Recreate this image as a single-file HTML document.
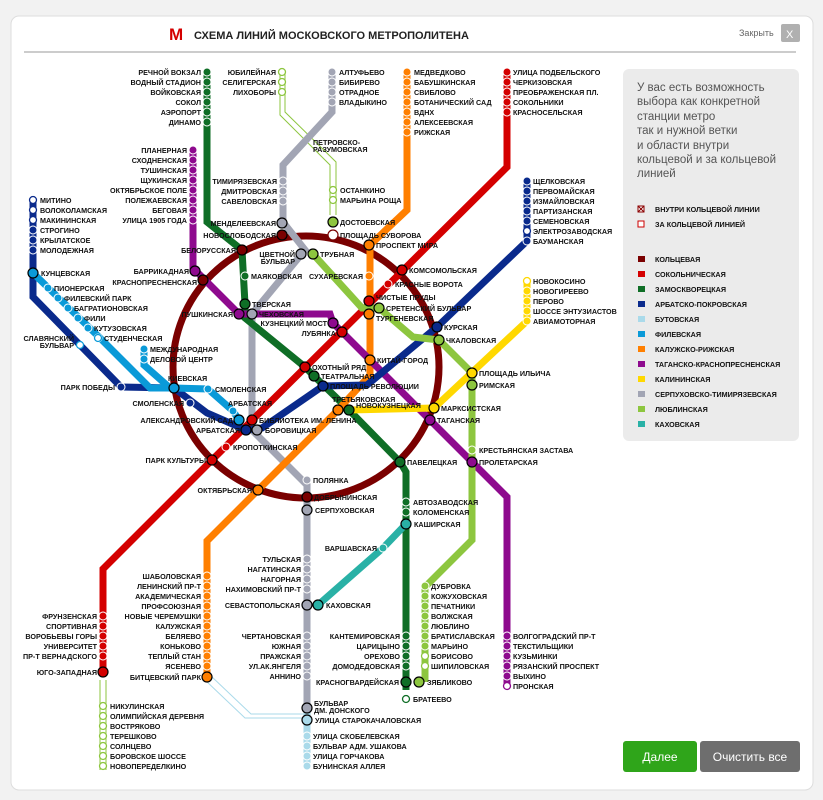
<!DOCTYPE html>
<html><head><meta charset="utf-8"><style>
html,body{margin:0;padding:0;background:#f2f2f2;width:823px;height:800px;overflow:hidden}
svg{display:block}
text{font-family:"Liberation Sans",sans-serif}
.l{font-size:7.2px;font-weight:bold;fill:#111}
.e{text-anchor:end}
</style></head><body>
<svg width="823" height="800" viewBox="0 0 823 800" xmlns="http://www.w3.org/2000/svg">
<rect x="11" y="16" width="802" height="774" rx="8" fill="#fff" stroke="#ddd"/>
<line x1="24" y1="52" x2="796" y2="52" stroke="#bbb" stroke-width="1.5"/>
<text x="169" y="40" font-size="17" font-weight="bold" fill="#d40000" font-family="Liberation Serif">М</text>
<text x="194" y="39" font-size="11" font-weight="bold" fill="#222">СХЕМА ЛИНИЙ МОСКОВСКОГО МЕТРОПОЛИТЕНА</text>
<text x="739" y="36" font-size="9" fill="#666">Закрыть</text>
<rect x="781" y="24" width="19" height="18" rx="2" fill="#b0b0b0"/>
<text x="786" y="38" font-size="11" fill="#fff">X</text>

<rect x="623" y="69" width="176" height="372" rx="6" fill="#ebebeb"/>
<g font-size="11.5" fill="#555">
<text x="637" y="91">У вас есть возможность</text>
<text x="637" y="105">выбора как конкретной</text>
<text x="637" y="120">станции метро</text>
<text x="637" y="134">так и нужной ветки</text>
<text x="637" y="149">и области внутри</text>
<text x="637" y="163">кольцевой и за кольцевой</text>
<text x="637" y="177">линией</text>
</g>
<rect x="638" y="206" width="6" height="6" fill="#fff" stroke="#8b0000"/><line x1="638" y1="206" x2="644" y2="212" stroke="#8b0000"/><line x1="644" y1="206" x2="638" y2="212" stroke="#8b0000"/>
<text x="655" y="212" class="l">ВНУТРИ КОЛЬЦЕВОЙ ЛИНИИ</text>
<rect x="638" y="221" width="6" height="6" fill="#fff" stroke="#c00"/>
<text x="655" y="227" class="l">ЗА КОЛЬЦЕВОЙ ЛИНИЕЙ</text>
<g>
<rect x="638" y="256" width="7" height="6" fill="#7a0000"/><text x="655" y="262" class="l">КОЛЬЦЕВАЯ</text>
<rect x="638" y="271" width="7" height="6" fill="#d40000"/><text x="655" y="277" class="l">СОКОЛЬНИЧЕСКАЯ</text>
<rect x="638" y="286" width="7" height="6" fill="#0f6e26"/><text x="655" y="292" class="l">ЗАМОСКВОРЕЦКАЯ</text>
<rect x="638" y="301" width="7" height="6" fill="#0a2a8c"/><text x="655" y="307" class="l">АРБАТСКО-ПОКРОВСКАЯ</text>
<rect x="638" y="316" width="7" height="6" fill="#aadaea"/><text x="655" y="322" class="l">БУТОВСКАЯ</text>
<rect x="638" y="331" width="7" height="6" fill="#0a9ad8"/><text x="655" y="337" class="l">ФИЛЕВСКАЯ</text>
<rect x="638" y="346" width="7" height="6" fill="#ff7f00"/><text x="655" y="352" class="l">КАЛУЖСКО-РИЖСКАЯ</text>
<rect x="638" y="361" width="7" height="6" fill="#8e0a8e"/><text x="655" y="367" class="l">ТАГАНСКО-КРАСНОПРЕСНЕНСКАЯ</text>
<rect x="638" y="376" width="7" height="6" fill="#ffd800"/><text x="655" y="382" class="l">КАЛИНИНСКАЯ</text>
<rect x="638" y="391" width="7" height="6" fill="#a2a5b4"/><text x="655" y="397" class="l">СЕРПУХОВСКО-ТИМИРЯЗЕВСКАЯ</text>
<rect x="638" y="406" width="7" height="6" fill="#8dc63f"/><text x="655" y="412" class="l">ЛЮБЛИНСКАЯ</text>
<rect x="638" y="421" width="7" height="6" fill="#29b1a6"/><text x="655" y="427" class="l">КАХОВСКАЯ</text>
</g>
<rect x="623" y="741" width="74" height="31" rx="3" fill="#2fa51a"/>
<text x="660" y="761" font-size="12" fill="#fff" text-anchor="middle">Далее</text>
<rect x="700" y="741" width="100" height="31" rx="3" fill="#6e6e6e"/>
<text x="750" y="761" font-size="12" fill="#fff" text-anchor="middle">Очистить все</text>

<g fill="none" stroke-width="7" stroke-linejoin="miter">
<ellipse cx="306" cy="367" rx="133" ry="131" stroke="#7a0000"/>
<polyline stroke="#aadaea" points="307,700 307,768"/>
<polyline stroke="#aadaea" stroke-width="1" points="205,680 245,718 307,718"/>
<polyline stroke="#aadaea" stroke-width="1" points="211,676 251,714 307,714"/>
<polyline stroke="#8dc63f" stroke-width="1" points="280,72 280,115 330,165 330,215"/>
<polyline stroke="#8dc63f" stroke-width="1" points="285,72 285,112 336,162 336,215"/>
<polyline stroke="#8dc63f" stroke-width="1" points="100,680 100,770"/><polyline stroke="#8dc63f" stroke-width="1" points="106,680 106,770"/>
<polyline stroke="#a2a5b4" points="332,72 332,112 283,165 283,222 305,250 252,314 252,430 307,485 307,705"/>
<polyline stroke="#0f6e26" points="207,72 207,222 242,250 245,304 245,318 305,367 314,376 349,410 400,462 406,472 406,690"/>
<polyline stroke="#d40000" points="507,72 507,167 212,460 103,569 103,672"/>
<polyline stroke="#ff7f00" points="407,72 407,210 370,245 370,375 338,410 258,490 207,541 207,677"/>
<polyline stroke="#8e0a8e" points="193,148 193,268 239,314 330,314 333,323 370,360 430,420 472,462 507,497 507,686"/>
<polyline stroke="#0a2a8c" points="33,200 33,297 121,387 174,388 207,413 246,430 262,428 323,386 367,385 437,327 527,241 527,181"/>
<polyline stroke="#0a9ad8" points="33,273 100,338 150,388 174,388 208,389 233,411 239,420"/>
<polyline stroke="#0a9ad8" points="144,349 144,365 170,388"/>
<polyline stroke="#ffd800" points="527,281 527,321 434,408 349,410"/>
<polyline stroke="#8dc63f" points="313,254 362,308 379,308 413,337 439,340 472,373 472,540 425,587 425,682"/>
<polyline stroke="#29b1a6" points="406,524 383,548 318,605"/>
</g>

<g stroke="#fff" stroke-width="1">
<g fill="#0f6e26"><circle cx="207" cy="72" r="4"/><circle cx="207" cy="82" r="4"/><circle cx="207" cy="92" r="4"/><circle cx="207" cy="102" r="4"/><circle cx="207" cy="112" r="4"/><circle cx="207" cy="122" r="4"/>
<circle cx="406" cy="502" r="4"/><circle cx="406" cy="512" r="4"/><circle cx="406" cy="636" r="4"/><circle cx="406" cy="646" r="4"/><circle cx="406" cy="656" r="4"/><circle cx="406" cy="666" r="4"/><circle cx="245" cy="276" r="4"/></g>
<g fill="#8e0a8e"><circle cx="193" cy="150" r="4"/><circle cx="193" cy="160" r="4"/><circle cx="193" cy="170" r="4"/><circle cx="193" cy="180" r="4"/><circle cx="193" cy="190" r="4"/><circle cx="193" cy="200" r="4"/><circle cx="193" cy="210" r="4"/><circle cx="193" cy="220" r="4"/>
<circle cx="507" cy="636" r="4"/><circle cx="507" cy="646" r="4"/><circle cx="507" cy="656" r="4"/><circle cx="507" cy="666" r="4"/><circle cx="507" cy="676" r="4"/></g>
<g fill="#a2a5b4"><circle cx="332" cy="72" r="4"/><circle cx="332" cy="82" r="4"/><circle cx="332" cy="92" r="4"/><circle cx="332" cy="102" r="4"/><circle cx="283" cy="181" r="4"/><circle cx="283" cy="191" r="4"/><circle cx="283" cy="201" r="4"/><circle cx="307" cy="480" r="4"/>
<circle cx="307" cy="559" r="4"/><circle cx="307" cy="569" r="4"/><circle cx="307" cy="579" r="4"/><circle cx="307" cy="589" r="4"/><circle cx="307" cy="636" r="4"/><circle cx="307" cy="646" r="4"/><circle cx="307" cy="656" r="4"/><circle cx="307" cy="666" r="4"/><circle cx="307" cy="676" r="4"/></g>
<g fill="#ff7f00"><circle cx="407" cy="72" r="4"/><circle cx="407" cy="82" r="4"/><circle cx="407" cy="92" r="4"/><circle cx="407" cy="102" r="4"/><circle cx="407" cy="112" r="4"/><circle cx="407" cy="122" r="4"/><circle cx="407" cy="132" r="4"/><circle cx="369" cy="276" r="4"/>
<circle cx="207" cy="576" r="4"/><circle cx="207" cy="586" r="4"/><circle cx="207" cy="596" r="4"/><circle cx="207" cy="606" r="4"/><circle cx="207" cy="616" r="4"/><circle cx="207" cy="626" r="4"/><circle cx="207" cy="636" r="4"/><circle cx="207" cy="646" r="4"/><circle cx="207" cy="656" r="4"/><circle cx="207" cy="666" r="4"/></g>
<g fill="#d40000"><circle cx="507" cy="72" r="4"/><circle cx="507" cy="82" r="4"/><circle cx="507" cy="92" r="4"/><circle cx="507" cy="102" r="4"/><circle cx="507" cy="112" r="4"/><circle cx="388" cy="284" r="4"/><circle cx="226" cy="447" r="4"/>
<circle cx="103" cy="616" r="4"/><circle cx="103" cy="626" r="4"/><circle cx="103" cy="636" r="4"/><circle cx="103" cy="646" r="4"/><circle cx="103" cy="656" r="4"/></g>
<g fill="#0a2a8c"><circle cx="527" cy="181" r="4"/><circle cx="527" cy="191" r="4"/><circle cx="527" cy="201" r="4"/><circle cx="527" cy="211" r="4"/><circle cx="527" cy="221" r="4"/><circle cx="527" cy="241" r="4"/><circle cx="33" cy="230" r="4"/><circle cx="33" cy="240" r="4"/><circle cx="33" cy="250" r="4"/><circle cx="121" cy="387" r="4"/><circle cx="190" cy="403" r="4"/></g>
<g fill="#ffd800"><circle cx="527" cy="291" r="4"/><circle cx="527" cy="301" r="4"/><circle cx="527" cy="311" r="4"/><circle cx="527" cy="321" r="4"/></g>
<g fill="#0a9ad8"><circle cx="48" cy="288" r="4"/><circle cx="58" cy="298" r="4"/><circle cx="68" cy="308" r="4"/><circle cx="78" cy="318" r="4"/><circle cx="88" cy="328" r="4"/><circle cx="98" cy="338" r="4"/><circle cx="144" cy="349" r="4"/><circle cx="144" cy="359" r="4"/><circle cx="208" cy="389" r="4"/><circle cx="233" cy="411" r="4"/></g>
<g fill="#8dc63f"><circle cx="425" cy="586" r="4"/><circle cx="425" cy="596" r="4"/><circle cx="425" cy="606" r="4"/><circle cx="425" cy="616" r="4"/><circle cx="425" cy="626" r="4"/><circle cx="425" cy="636" r="4"/><circle cx="425" cy="646" r="4"/><circle cx="472" cy="450" r="4"/></g>
<g fill="#aadaea"><circle cx="307" cy="736" r="4"/><circle cx="307" cy="746" r="4"/><circle cx="307" cy="756" r="4"/><circle cx="307" cy="766" r="4"/></g>
<circle cx="383" cy="548" r="4" fill="#29b1a6"/>
</g>
<g fill="#fff" stroke-width="1.3">
<g stroke="#8dc63f"><circle cx="282" cy="72" r="3.5"/><circle cx="282" cy="82" r="3.5"/><circle cx="282" cy="92" r="3.5"/><circle cx="333" cy="190" r="3.5"/><circle cx="333" cy="200" r="3.5"/><circle cx="425" cy="656" r="3.5"/><circle cx="425" cy="666" r="3.5"/>
<circle cx="103" cy="706" r="3.5"/><circle cx="103" cy="716" r="3.5"/><circle cx="103" cy="726" r="3.5"/><circle cx="103" cy="736" r="3.5"/><circle cx="103" cy="746" r="3.5"/><circle cx="103" cy="756" r="3.5"/><circle cx="103" cy="766" r="3.5"/></g>
<g stroke="#0a2a8c"><circle cx="33" cy="200" r="3.5"/><circle cx="33" cy="210" r="3.5"/><circle cx="33" cy="220" r="3.5"/><circle cx="527" cy="231" r="3.5"/></g>
<circle cx="527" cy="281" r="3.5" stroke="#ffd800"/>
<circle cx="507" cy="686" r="3.5" stroke="#8e0a8e"/>
<circle cx="406" cy="699" r="3.5" stroke="#0f6e26"/>
<circle cx="98" cy="338" r="3.5" stroke="#0a9ad8"/>
</g>
<g stroke="#000" stroke-width="1.2">
<circle cx="282" cy="223" r="5" fill="#a2a5b4"/><circle cx="282" cy="235" r="5" fill="#7a0000"/>
<circle cx="333" cy="222" r="5" fill="#8dc63f"/><circle cx="333" cy="235" r="5" fill="#fff" stroke="#7a0000"/>
<circle cx="242" cy="250" r="5" fill="#7a0000"/><circle cx="301" cy="254" r="5" fill="#a2a5b4"/><circle cx="313" cy="254" r="5" fill="#8dc63f"/>
<circle cx="369" cy="245" r="5" fill="#ff7f00"/><circle cx="402" cy="270" r="5" fill="#d40000"/>
<circle cx="195" cy="271" r="5" fill="#8e0a8e"/><circle cx="203" cy="280" r="5" fill="#7a0000"/>
<circle cx="245" cy="304" r="5" fill="#0f6e26"/><circle cx="239" cy="314" r="5" fill="#8e0a8e"/><circle cx="252" cy="314" r="5" fill="#a2a5b4"/>
<circle cx="369" cy="301" r="5" fill="#d40000"/><circle cx="379" cy="308" r="5" fill="#8dc63f"/><circle cx="369" cy="314" r="5" fill="#ff7f00"/>
<circle cx="333" cy="323" r="5" fill="#8e0a8e"/><circle cx="342" cy="332" r="5" fill="#d40000"/>
<circle cx="437" cy="327" r="5" fill="#0a2a8c"/><circle cx="439" cy="340" r="5" fill="#8dc63f"/>
<circle cx="370" cy="360" r="5" fill="#ff7f00"/><circle cx="305" cy="367" r="5" fill="#d40000"/><circle cx="314" cy="376" r="5" fill="#0f6e26"/><circle cx="323" cy="386" r="5" fill="#0a2a8c"/>
<circle cx="472" cy="373" r="5" fill="#ffd800"/><circle cx="472" cy="385" r="5" fill="#8dc63f"/>
<circle cx="33" cy="273" r="5" fill="#0a9ad8"/><circle cx="174" cy="388" r="5" fill="#0a9ad8"/>
<circle cx="239" cy="420" r="5" fill="#0a9ad8"/><circle cx="252" cy="420" r="5" fill="#d40000"/>
<circle cx="246" cy="430" r="5" fill="#0a2a8c"/><circle cx="257" cy="430" r="5" fill="#a2a5b4"/>
<circle cx="338" cy="410" r="5" fill="#ff7f00"/><circle cx="349" cy="410" r="5" fill="#0f6e26"/>
<circle cx="434" cy="408" r="5" fill="#ffd800"/><circle cx="430" cy="420" r="5" fill="#8e0a8e"/>
<circle cx="212" cy="460" r="5" fill="#d40000"/><circle cx="400" cy="462" r="5" fill="#0f6e26"/>
<circle cx="472" cy="462" r="5" fill="#8e0a8e"/>
<circle cx="258" cy="490" r="5" fill="#ff7f00"/><circle cx="307" cy="497" r="5" fill="#7a0000"/><circle cx="307" cy="510" r="5" fill="#a2a5b4"/>
<circle cx="406" cy="524" r="5" fill="#29b1a6"/>
<circle cx="307" cy="605" r="5" fill="#a2a5b4"/><circle cx="318" cy="605" r="5" fill="#29b1a6"/>
<circle cx="103" cy="672" r="5" fill="#d40000"/><circle cx="207" cy="677" r="5" fill="#ff7f00"/>
<circle cx="406" cy="682" r="5" fill="#0f6e26"/><circle cx="419" cy="682" r="5" fill="#8dc63f"/>
<circle cx="307" cy="708" r="5" fill="#a2a5b4"/><circle cx="307" cy="720" r="5" fill="#aadaea"/>
<circle cx="80" cy="345" r="3.5" fill="#fff" stroke="#0a9ad8"/>
</g>

<g class="l">
<g class="e">
<text x="201" y="75">РЕЧНОЙ ВОКЗАЛ</text><text x="201" y="85">ВОДНЫЙ СТАДИОН</text><text x="201" y="95">ВОЙКОВСКАЯ</text><text x="201" y="105">СОКОЛ</text><text x="201" y="115">АЭРОПОРТ</text><text x="201" y="125">ДИНАМО</text>
<text x="187" y="153">ПЛАНЕРНАЯ</text><text x="187" y="163">СХОДНЕНСКАЯ</text><text x="187" y="173">ТУШИНСКАЯ</text><text x="187" y="183">ЩУКИНСКАЯ</text><text x="187" y="193">ОКТЯБРЬСКОЕ ПОЛЕ</text><text x="187" y="203">ПОЛЕЖАЕВСКАЯ</text><text x="187" y="213">БЕГОВАЯ</text><text x="187" y="223">УЛИЦА 1905 ГОДА</text>
<text x="276" y="75">ЮБИЛЕЙНАЯ</text><text x="276" y="85">СЕЛИГЕРСКАЯ</text><text x="276" y="95">ЛИХОБОРЫ</text>
<text x="277" y="184">ТИМИРЯЗЕВСКАЯ</text><text x="277" y="194">ДМИТРОВСКАЯ</text><text x="277" y="204">САВЕЛОВСКАЯ</text>
<text x="276" y="226">МЕНДЕЛЕЕВСКАЯ</text><text x="276" y="238">НОВОСЛОБОДСКАЯ</text>
<text x="236" y="253">БЕЛОРУССКАЯ</text><text x="295" y="257">ЦВЕТНОЙ</text><text x="295" y="264">БУЛЬВАР</text>
<text x="189" y="274">БАРРИКАДНАЯ</text><text x="197" y="285">КРАСНОПРЕСНЕНСКАЯ</text>
<text x="363" y="279">СУХАРЕВСКАЯ</text><text x="233" y="317">ПУШКИНСКАЯ</text>
<text x="327" y="326">КУЗНЕЦКИЙ МОСТ</text><text x="336" y="336">ЛУБЯНКА</text>
<text x="74" y="341">СЛАВЯНСКИЙ</text><text x="74" y="348">БУЛЬВАР</text>
<text x="115" y="390">ПАРК ПОБЕДЫ</text><text x="184" y="406">СМОЛЕНСКАЯ</text>
<text x="233" y="423">АЛЕКСАНДРОВСКИЙ САД</text><text x="240" y="433">АРБАТСКАЯ</text>
<text x="206" y="463">ПАРК КУЛЬТУРЫ</text><text x="252" y="493">ОКТЯБРЬСКАЯ</text>
<text x="97" y="619">ФРУНЗЕНСКАЯ</text><text x="97" y="629">СПОРТИВНАЯ</text><text x="97" y="639">ВОРОБЬЕВЫ ГОРЫ</text><text x="97" y="649">УНИВЕРСИТЕТ</text><text x="97" y="659">ПР-Т ВЕРНАДСКОГО</text><text x="97" y="675">ЮГО-ЗАПАДНАЯ</text>
<text x="201" y="579">ШАБОЛОВСКАЯ</text><text x="201" y="589">ЛЕНИНСКИЙ ПР-Т</text><text x="201" y="599">АКАДЕМИЧЕСКАЯ</text><text x="201" y="609">ПРОФСОЮЗНАЯ</text><text x="201" y="619">НОВЫЕ ЧЕРЕМУШКИ</text><text x="201" y="629">КАЛУЖСКАЯ</text><text x="201" y="639">БЕЛЯЕВО</text><text x="201" y="649">КОНЬКОВО</text><text x="201" y="659">ТЕПЛЫЙ СТАН</text><text x="201" y="669">ЯСЕНЕВО</text><text x="201" y="680">БИТЦЕВСКИЙ ПАРК</text>
<text x="301" y="562">ТУЛЬСКАЯ</text><text x="301" y="572">НАГАТИНСКАЯ</text><text x="301" y="582">НАГОРНАЯ</text><text x="301" y="592">НАХИМОВСКИЙ ПР-Т</text><text x="300" y="608">СЕВАСТОПОЛЬСКАЯ</text>
<text x="301" y="639">ЧЕРТАНОВСКАЯ</text><text x="301" y="649">ЮЖНАЯ</text><text x="301" y="659">ПРАЖСКАЯ</text><text x="301" y="669">УЛ.АК.ЯНГЕЛЯ</text><text x="301" y="679">АННИНО</text>
<text x="377" y="551">ВАРШАВСКАЯ</text>
<text x="400" y="639">КАНТЕМИРОВСКАЯ</text><text x="400" y="649">ЦАРИЦЫНО</text><text x="400" y="659">ОРЕХОВО</text><text x="400" y="669">ДОМОДЕДОВСКАЯ</text><text x="399" y="685">КРАСНОГВАРДЕЙСКАЯ</text>
</g>
<text x="339" y="75">АЛТУФЬЕВО</text><text x="339" y="85">БИБИРЕВО</text><text x="339" y="95">ОТРАДНОЕ</text><text x="339" y="105">ВЛАДЫКИНО</text>
<text x="313" y="145">ПЕТРОВСКО-</text><text x="313" y="152">РАЗУМОВСКАЯ</text>
<text x="340" y="193">ОСТАНКИНО</text><text x="340" y="203">МАРЬИНА РОЩА</text>
<text x="414" y="75">МЕДВЕДКОВО</text><text x="414" y="85">БАБУШКИНСКАЯ</text><text x="414" y="95">СВИБЛОВО</text><text x="414" y="105">БОТАНИЧЕСКИЙ САД</text><text x="414" y="115">ВДНХ</text><text x="414" y="125">АЛЕКСЕЕВСКАЯ</text><text x="414" y="135">РИЖСКАЯ</text>
<text x="513" y="75">УЛИЦА ПОДБЕЛЬСКОГО</text><text x="513" y="85">ЧЕРКИЗОВСКАЯ</text><text x="513" y="95">ПРЕОБРАЖЕНСКАЯ ПЛ.</text><text x="513" y="105">СОКОЛЬНИКИ</text><text x="513" y="115">КРАСНОСЕЛЬСКАЯ</text>
<text x="533" y="184">ЩЕЛКОВСКАЯ</text><text x="533" y="194">ПЕРВОМАЙСКАЯ</text><text x="533" y="204">ИЗМАЙЛОВСКАЯ</text><text x="533" y="214">ПАРТИЗАНСКАЯ</text><text x="533" y="224">СЕМЕНОВСКАЯ</text><text x="533" y="234">ЭЛЕКТРОЗАВОДСКАЯ</text><text x="533" y="244">БАУМАНСКАЯ</text>
<text x="533" y="284">НОВОКОСИНО</text><text x="533" y="294">НОВОГИРЕЕВО</text><text x="533" y="304">ПЕРОВО</text><text x="533" y="314">ШОССЕ ЭНТУЗИАСТОВ</text><text x="533" y="324">АВИАМОТОРНАЯ</text>
<text x="40" y="203">МИТИНО</text><text x="40" y="213">ВОЛОКОЛАМСКАЯ</text><text x="40" y="223">МАКИНИНСКАЯ</text><text x="40" y="233">СТРОГИНО</text><text x="40" y="243">КРЫЛАТСКОЕ</text><text x="40" y="253">МОЛОДЕЖНАЯ</text>
<text x="41" y="276">КУНЦЕВСКАЯ</text><text x="54" y="291">ПИОНЕРСКАЯ</text><text x="64" y="301">ФИЛЕВСКИЙ ПАРК</text><text x="74" y="311">БАГРАТИОНОВСКАЯ</text><text x="84" y="321">ФИЛИ</text><text x="94" y="331">КУТУЗОВСКАЯ</text><text x="104" y="341">СТУДЕНЧЕСКАЯ</text>
<text x="150" y="352">МЕЖДУНАРОДНАЯ</text><text x="150" y="362">ДЕЛОВОЙ ЦЕНТР</text>
<text x="168" y="381">КИЕВСКАЯ</text><text x="215" y="392">СМОЛЕНСКАЯ</text><text x="228" y="406">АРБАТСКАЯ</text>
<text x="259" y="423">БИБЛИОТЕКА ИМ. ЛЕНИНА</text><text x="265" y="433">БОРОВИЦКАЯ</text><text x="233" y="450">КРОПОТКИНСКАЯ</text>
<text x="340" y="225">ДОСТОЕВСКАЯ</text><text x="340" y="238">ПЛОЩАДЬ СУВОРОВА</text>
<text x="320" y="257">ТРУБНАЯ</text><text x="376" y="248">ПРОСПЕКТ МИРА</text><text x="251" y="279">МАЯКОВСКАЯ</text>
<text x="409" y="273">КОМСОМОЛЬСКАЯ</text><text x="395" y="287">КРАСНЫЕ ВОРОТА</text>
<text x="252" y="307">ТВЕРСКАЯ</text><text x="259" y="317">ЧЕХОВСКАЯ</text>
<text x="376" y="300">ЧИСТЫЕ ПРУДЫ</text><text x="386" y="311">СРЕТЕНСКИЙ БУЛЬВАР</text><text x="376" y="321">ТУРГЕНЕВСКАЯ</text>
<text x="444" y="330">КУРСКАЯ</text><text x="446" y="343">ЧКАЛОВСКАЯ</text>
<text x="377" y="363">КИТАЙ-ГОРОД</text><text x="312" y="370">ОХОТНЫЙ РЯД</text><text x="321" y="379">ТЕАТРАЛЬНАЯ</text><text x="330" y="389">ПЛОЩАДЬ РЕВОЛЮЦИИ</text>
<text x="479" y="376">ПЛОЩАДЬ ИЛЬИЧА</text><text x="479" y="388">РИМСКАЯ</text>
<text x="332" y="402">ТРЕТЬЯКОВСКАЯ</text><text x="356" y="408">НОВОКУЗНЕЦКАЯ</text>
<text x="441" y="411">МАРКСИСТСКАЯ</text><text x="437" y="423">ТАГАНСКАЯ</text>
<text x="479" y="453">КРЕСТЬЯНСКАЯ ЗАСТАВА</text><text x="479" y="465">ПРОЛЕТАРСКАЯ</text><text x="407" y="465">ПАВЕЛЕЦКАЯ</text>
<text x="313" y="483">ПОЛЯНКА</text><text x="314" y="500">ДОБРЫНИНСКАЯ</text><text x="315" y="513">СЕРПУХОВСКАЯ</text>
<text x="413" y="505">АВТОЗАВОДСКАЯ</text><text x="413" y="515">КОЛОМЕНСКАЯ</text><text x="414" y="527">КАШИРСКАЯ</text>
<text x="326" y="608">КАХОВСКАЯ</text>
<text x="431" y="589">ДУБРОВКА</text><text x="431" y="599">КОЖУХОВСКАЯ</text><text x="431" y="609">ПЕЧАТНИКИ</text><text x="431" y="619">ВОЛЖСКАЯ</text><text x="431" y="629">ЛЮБЛИНО</text><text x="431" y="639">БРАТИСЛАВСКАЯ</text><text x="431" y="649">МАРЬИНО</text><text x="431" y="659">БОРИСОВО</text><text x="431" y="669">ШИПИЛОВСКАЯ</text><text x="427" y="685">ЗЯБЛИКОВО</text>
<text x="413" y="702">БРАТЕЕВО</text>
<text x="513" y="639">ВОЛГОГРАДСКИЙ ПР-Т</text><text x="513" y="649">ТЕКСТИЛЬЩИКИ</text><text x="513" y="659">КУЗЬМИНКИ</text><text x="513" y="669">РЯЗАНСКИЙ ПРОСПЕКТ</text><text x="513" y="679">ВЫХИНО</text><text x="513" y="689">ПРОНСКАЯ</text>
<text x="110" y="709">НИКУЛИНСКАЯ</text><text x="110" y="719">ОЛИМПИЙСКАЯ ДЕРЕВНЯ</text><text x="110" y="729">ВОСТРЯКОВО</text><text x="110" y="739">ТЕРЕШКОВО</text><text x="110" y="749">СОЛНЦЕВО</text><text x="110" y="759">БОРОВСКОЕ ШОССЕ</text><text x="110" y="769">НОВОПЕРЕДЕЛКИНО</text>
<text x="314" y="706">БУЛЬВАР</text><text x="314" y="713">ДМ. ДОНСКОГО</text><text x="315" y="723">УЛИЦА СТАРОКАЧАЛОВСКАЯ</text>
<text x="313" y="739">УЛИЦА СКОБЕЛЕВСКАЯ</text><text x="313" y="749">БУЛЬВАР АДМ. УШАКОВА</text><text x="313" y="759">УЛИЦА ГОРЧАКОВА</text><text x="313" y="769">БУНИНСКАЯ АЛЛЕЯ</text>
</g>
</svg>
</body></html>
